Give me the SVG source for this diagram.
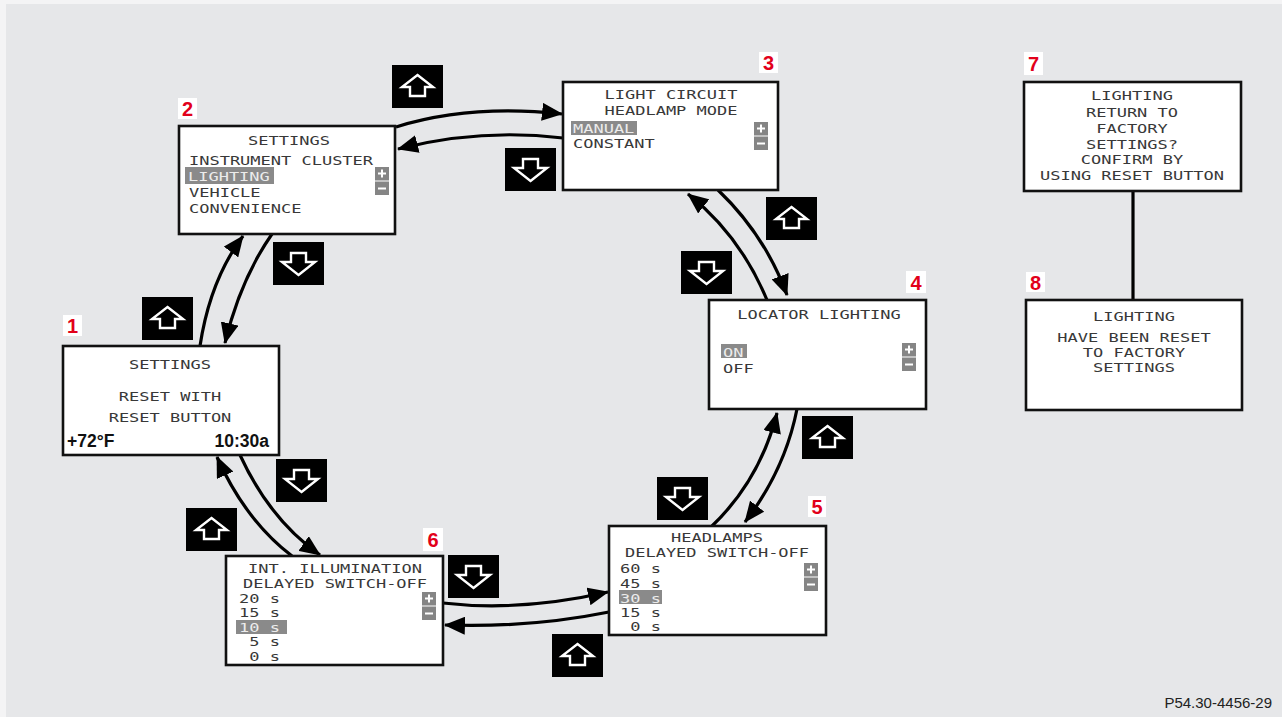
<svg xmlns="http://www.w3.org/2000/svg" xmlns:xlink="http://www.w3.org/1999/xlink" width="1282" height="717" viewBox="0 0 1282 717">
<style>
.box{fill:#fff;stroke:#111;stroke-width:2.6}
.t{font-family:"DejaVu Sans Mono","Liberation Mono",monospace;font-size:17px;fill:#383838}
.c{text-anchor:middle}
.hl{fill:#8a8a8a}
.ht{fill:#ececec}
.lblbg{fill:#fff}
.lbl{font-family:"Liberation Sans",Arial,sans-serif;font-weight:bold;font-size:20px;fill:#e2001a;text-anchor:middle}
.scr{fill:#858585}
.pm{stroke:#fff;stroke-width:2;fill:none}
.conn{fill:none;stroke:#000;stroke-width:3.2;marker-end:url(#ah)}
.plain{fill:none;stroke:#000;stroke-width:3.2}
.ibg{fill:#000}
.iar{fill:none;stroke:#fff;stroke-width:2.4;stroke-linejoin:miter}
.bold{font-family:"Liberation Sans",Arial,sans-serif;font-weight:bold;font-size:17.5px;fill:#111}
</style>
<defs>
<marker id="ah" markerUnits="userSpaceOnUse" markerWidth="21" markerHeight="18" viewBox="0 0 21 18" refX="20" refY="9" orient="auto">
<path d="M0,0 L21,9 L0,18 Z" fill="#000"/>
</marker>
<g id="up"><rect class="ibg" width="51" height="43"/><path class="iar" d="M25.5,10 L41,22 L33,22 L33,31 L18,31 L18,22 L10,22 Z"/></g>
<g id="down"><rect class="ibg" width="51" height="43"/><path class="iar" d="M25.5,33 L42,20 L33,20 L33,11 L18,11 L18,20 L9,20 Z"/></g>
<g id="scroll"><rect class="scr" x="0" y="0" width="14" height="13.5"/><rect class="scr" x="0" y="14.5" width="14" height="13.5"/><path class="pm" d="M7,2.5 V10.5 M3,6.5 H11 M3,21.5 H11"/></g>
</defs>
<rect x="0" y="0" width="1282" height="717" fill="#f4f4f5"/>
<rect x="6" y="4" width="1276" height="713" fill="#e6e7e9"/>

<g id="connectors">
<path class="conn" d="M396,127 Q470,104 562,114"/>
<path class="conn" d="M563,138 Q480,128 398,149"/>
<path class="conn" d="M272,234 Q240,280 225,343"/>
<path class="conn" d="M200,346 Q210,280 243,236"/>
<path class="conn" d="M240,455 Q270,520 320,555"/>
<path class="conn" d="M292,556 Q245,520 217,457"/>
<path class="conn" d="M443,603 Q520,612 608,592"/>
<path class="conn" d="M609,612 Q530,628 445,625"/>
<path class="conn" d="M797,409 Q785,470 745,522"/>
<path class="conn" d="M712,526 Q760,480 777,413"/>
<path class="conn" d="M718,190 Q765,235 787,295"/>
<path class="conn" d="M767,300 Q740,235 688,194"/>
<path class="plain" d="M1133,191 V300"/>
</g>

<g id="buttons">
<use xlink:href="#up" x="392" y="65"/>
<use xlink:href="#down" x="505" y="148"/>
<use xlink:href="#down" x="273" y="242"/>
<use xlink:href="#up" x="142" y="297"/>
<use xlink:href="#down" x="276" y="459"/>
<use xlink:href="#up" x="186" y="508"/>
<use xlink:href="#down" x="448" y="555"/>
<use xlink:href="#up" x="552" y="634"/>
<use xlink:href="#down" x="657" y="477"/>
<use xlink:href="#up" x="802" y="416"/>
<use xlink:href="#down" x="681" y="251"/>
<use xlink:href="#up" x="766" y="197"/>
</g>

<g id="node1">
<rect class="box" x="63" y="346" width="216" height="109"/>
<rect class="lblbg" x="63" y="315" width="19" height="21"/><text class="lbl" x="72.5" y="333">1</text>
<text class="t c" transform="translate(170,369) scale(1,0.72)">SETTINGS</text>
<text class="t c" transform="translate(170,401) scale(1,0.72)">RESET WITH</text>
<text class="t c" transform="translate(170,422) scale(1,0.72)">RESET BUTTON</text>
<text class="bold" x="67" y="447">+72°F</text>
<text class="bold" x="269" y="447" text-anchor="end">10:30a</text>
</g>

<g id="node2">
<rect class="box" x="179" y="126" width="216" height="108"/>
<rect class="lblbg" x="178" y="98" width="19" height="21"/><text class="lbl" x="187.5" y="116">2</text>
<text class="t c" transform="translate(289,145) scale(1,0.72)">SETTINGS</text>
<text class="t" transform="translate(189,165) scale(1,0.72)">INSTRUMENT CLUSTER</text>
<rect class="hl" x="185" y="167" width="89" height="17"/>
<text class="t ht" transform="translate(188,181) scale(1,0.72)">LIGHTING</text>
<text class="t" transform="translate(189,197) scale(1,0.72)">VEHICLE</text>
<text class="t" transform="translate(189,213) scale(1,0.72)">CONVENIENCE</text>
<use xlink:href="#scroll" x="375" y="167"/>
</g>

<g id="node3">
<rect class="box" x="563" y="82" width="215" height="108"/>
<rect class="lblbg" x="759" y="52" width="19" height="21"/><text class="lbl" x="768.5" y="70">3</text>
<text class="t c" transform="translate(671,99) scale(1,0.72)">LIGHT CIRCUIT</text>
<text class="t c" transform="translate(671,115) scale(1,0.72)">HEADLAMP MODE</text>
<rect class="hl" x="571" y="121" width="66" height="14"/>
<text class="t ht" transform="translate(573,133) scale(1,0.72)">MANUAL</text>
<text class="t" transform="translate(573,148) scale(1,0.72)">CONSTANT</text>
<use xlink:href="#scroll" x="754" y="122"/>
</g>

<g id="node4">
<rect class="box" x="709" y="300" width="217" height="109"/>
<rect class="lblbg" x="906" y="271" width="20" height="22"/><text class="lbl" x="916" y="290">4</text>
<text class="t c" transform="translate(819,319) scale(1,0.72)">LOCATOR LIGHTING</text>
<rect class="hl" x="721" y="344" width="26" height="14"/>
<text class="t ht" transform="translate(723,357) scale(1,0.72)">ON</text>
<text class="t" transform="translate(723,373) scale(1,0.72)">OFF</text>
<use xlink:href="#scroll" x="902" y="343"/>
</g>

<g id="node5">
<rect class="box" x="609" y="526" width="217" height="109"/>
<rect class="lblbg" x="808" y="496" width="18" height="21"/><text class="lbl" x="817" y="514">5</text>
<text class="t c" transform="translate(717,542) scale(1,0.72)">HEADLAMPS</text>
<text class="t c" transform="translate(717,557) scale(1,0.72)">DELAYED SWITCH-OFF</text>
<text class="t" transform="translate(620,573) scale(1,0.72)">60 s</text>
<text class="t" transform="translate(620,588) scale(1,0.72)">45 s</text>
<rect class="hl" x="619" y="590" width="43" height="14"/>
<text class="t ht" transform="translate(620,603) scale(1,0.72)">30 s</text>
<text class="t" transform="translate(620,617) scale(1,0.72)">15 s</text>
<text class="t" transform="translate(620,631) scale(1,0.72)" xml:space="preserve"> 0 s</text>
<use xlink:href="#scroll" x="804" y="563"/>
</g>

<g id="node6">
<rect class="box" x="226" y="556" width="217" height="109"/>
<rect class="lblbg" x="423" y="528" width="20" height="23"/><text class="lbl" x="433" y="547">6</text>
<text class="t c" transform="translate(335,573) scale(1,0.72)">INT. ILLUMINATION</text>
<text class="t c" transform="translate(335,588) scale(1,0.72)">DELAYED SWITCH-OFF</text>
<text class="t" transform="translate(239,603) scale(1,0.72)">20 s</text>
<text class="t" transform="translate(239,617) scale(1,0.72)">15 s</text>
<rect class="hl" x="236" y="620" width="51" height="14"/>
<text class="t ht" transform="translate(239,632) scale(1,0.72)">10 s</text>
<text class="t" transform="translate(239,646) scale(1,0.72)" xml:space="preserve"> 5 s</text>
<text class="t" transform="translate(239,661) scale(1,0.72)" xml:space="preserve"> 0 s</text>
<use xlink:href="#scroll" x="422" y="592"/>
</g>

<g id="node7">
<rect class="box" x="1024" y="82" width="217" height="109"/>
<rect class="lblbg" x="1024" y="52" width="19" height="23"/><text class="lbl" x="1033.5" y="71">7</text>
<text class="t c" transform="translate(1132,100) scale(1,0.72)">LIGHTING</text>
<text class="t c" transform="translate(1132,117) scale(1,0.72)">RETURN TO</text>
<text class="t c" transform="translate(1132,133) scale(1,0.72)">FACTORY</text>
<text class="t c" transform="translate(1132,149) scale(1,0.72)">SETTINGS?</text>
<text class="t c" transform="translate(1132,164) scale(1,0.72)">CONFIRM BY</text>
<text class="t c" transform="translate(1132,180) scale(1,0.72)">USING RESET BUTTON</text>
</g>

<g id="node8">
<rect class="box" x="1026" y="300" width="216" height="110"/>
<rect class="lblbg" x="1026" y="272" width="19" height="20"/><text class="lbl" x="1035.5" y="290">8</text>
<text class="t c" transform="translate(1134,321) scale(1,0.72)">LIGHTING</text>
<text class="t c" transform="translate(1134,342) scale(1,0.72)">HAVE BEEN RESET</text>
<text class="t c" transform="translate(1134,357) scale(1,0.72)">TO FACTORY</text>
<text class="t c" transform="translate(1134,372) scale(1,0.72)">SETTINGS</text>
</g>

<text x="1272" y="708" text-anchor="end" font-family="Liberation Sans, Arial, sans-serif" font-size="15" fill="#222">P54.30-4456-29</text>
</svg>
